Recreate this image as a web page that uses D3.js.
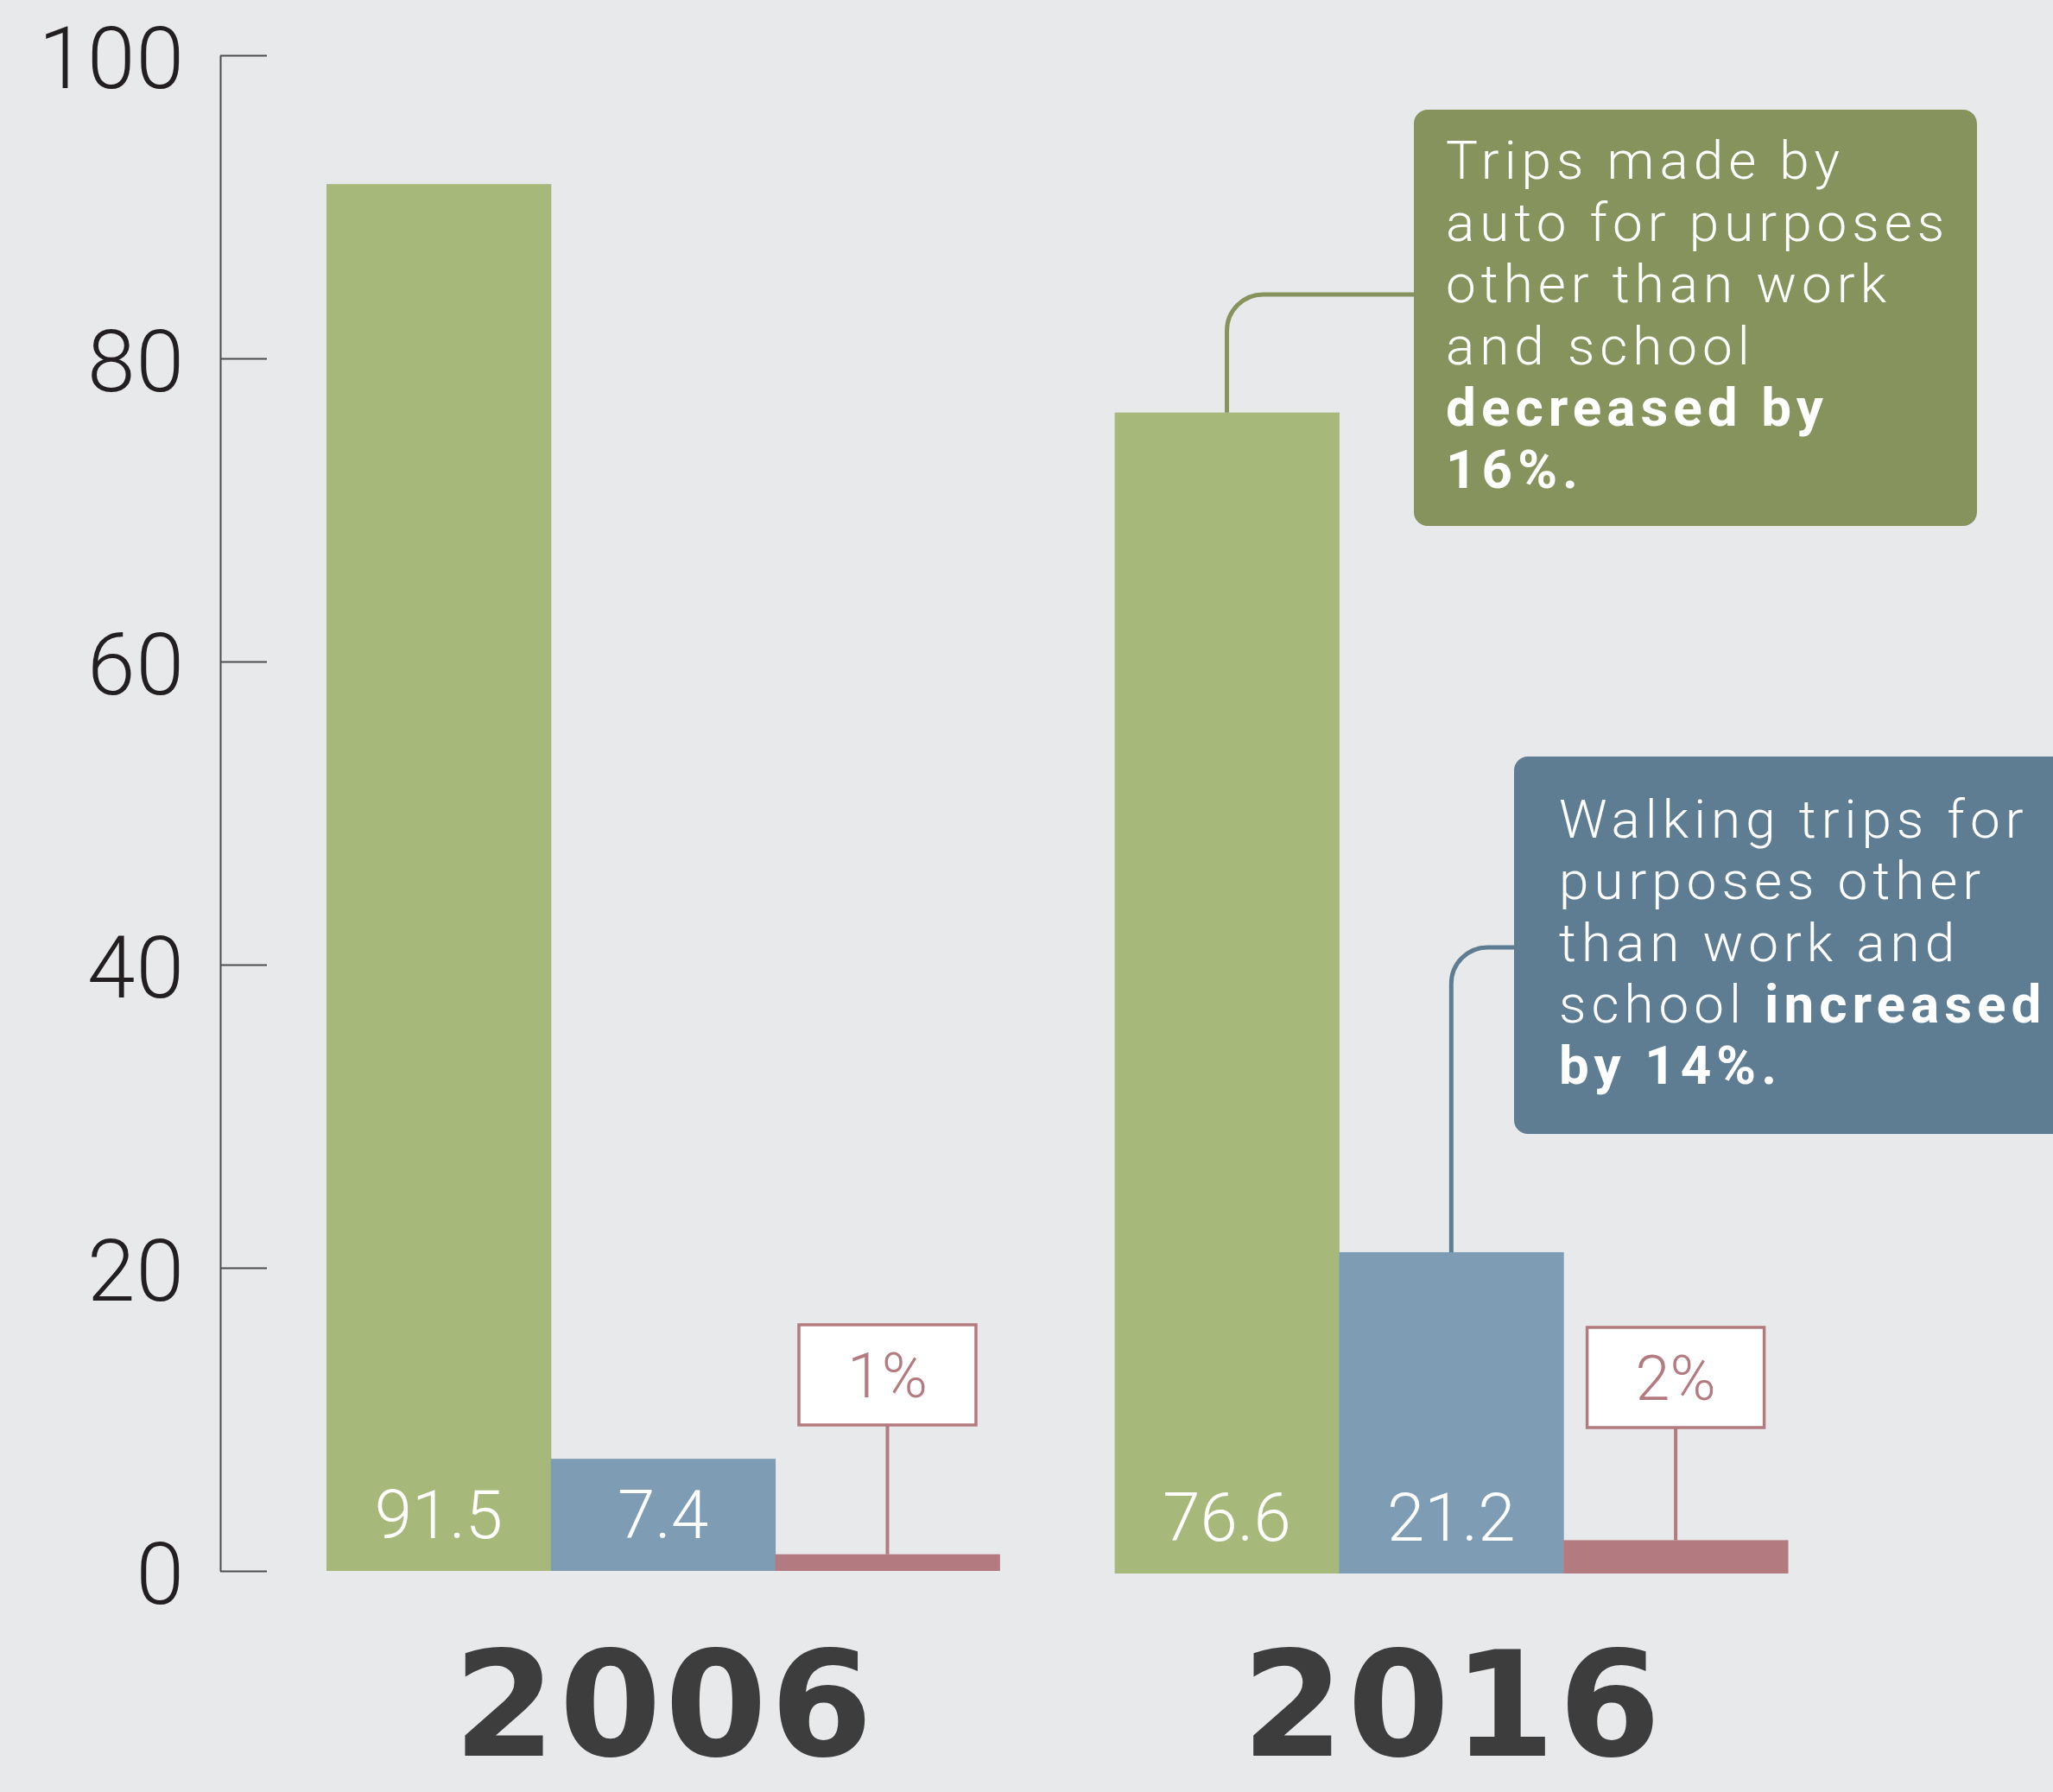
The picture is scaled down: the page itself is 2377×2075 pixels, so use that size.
<!DOCTYPE html>
<html><head><meta charset="utf-8">
<script src="https://cdn.jsdelivr.net/npm/d3@7"></script>
<style>
html,body{margin:0;padding:0;background:#e8e9eb;}
svg{display:block;}
</style></head>
<body>
<svg id="c" width="2377" height="2075"></svg>
<script>
// ---- data ----
const years = ["2006", "2016"];
const modes = ["auto", "walk", "other"];
const values2006 = [91.5, 7.4, 1.1];
const values2016 = [76.6, 21.2, 2.2];
const valueLabels2006 = ["91.5", "7.4", "1%"];
const valueLabels2016 = ["76.6", "21.2", "2%"];
const yTicks = [0, 20, 40, 60, 80, 100];
const autoNote = [
  [{t:"Trips made by", b:false}],
  [{t:"auto for purposes", b:false}],
  [{t:"other than work", b:false}],
  [{t:"and school", b:false}],
  [{t:"decreased by", b:true}],
  [{t:"16%.", b:true}]
];
const walkNote = [
  [{t:"Walking trips for", b:false}],
  [{t:"purposes other", b:false}],
  [{t:"than work and", b:false}],
  [{t:"school ", b:false}, {t:"increased", b:true}],
  [{t:"by 14%.", b:true}]
];

const colors = {auto:"#a7b87b", walk:"#7e9db5", other:"#b37b80"};
const noteColors = {auto:"#86935c", walk:"#5e7d93"};
const thin = "Roboto, 'Open Sans', sans-serif";

const svg = d3.select("#c");
svg.append("rect").attr("width",2377).attr("height",2075).attr("fill","#e8e9eb");

const y = d3.scaleLinear().domain([0,100]).range([1819,64]);
const x0 = d3.scaleBand().domain(years).range([378,2070]).paddingInner(0.146);
const x1 = d3.scaleBand().domain(modes).range([0, x0.bandwidth()]);

// axis
const axis = d3.axisLeft(y).tickValues(yTicks).tickSizeInner(-54).tickSizeOuter(0).tickPadding(41);
const ag = svg.append("g").attr("transform","translate(255,0)").call(axis);
ag.select(".domain").attr("stroke","#4d4d4f").attr("stroke-width",2);
ag.selectAll(".tick line").attr("stroke","#4d4d4f").attr("stroke-width",2);
ag.selectAll(".tick text").attr("font-family",thin).attr("font-weight",300)
  .attr("font-size",100).attr("letter-spacing",1).attr("fill","#231f20").attr("dy","0.37em");

const groups = [
  {year:"2006", vals:values2006, labels:valueLabels2006, dy:0},
  {year:"2016", vals:values2016, labels:valueLabels2016, dy:3}
];

groups.forEach(g => {
  const gg = svg.append("g").attr("transform",`translate(${x0(g.year)},${g.dy})`);
  const data = modes.map((m,i)=>({m, v:g.vals[i], l:g.labels[i]}));
  gg.selectAll("rect.bar").data(data).join("rect")
    .attr("class","bar")
    .attr("x", d=>x1(d.m)).attr("width", x1.bandwidth()+0.5)
    .attr("y", d=>y(d.v)).attr("height", d=>y(0)-y(d.v))
    .attr("fill", d=>colors[d.m]);
  gg.selectAll("text.val").data(data.filter(d=>d.m!=="other")).join("text")
    .attr("class","val")
    .attr("x", d=>x1(d.m)+x1.bandwidth()/2).attr("y", y(0)-38)
    .attr("text-anchor","middle").attr("font-family",thin).attr("font-weight",300)
    .attr("font-size",78).attr("fill","#ffffff").text(d=>d.l);
  const o = data[2];
  const cx = x1(o.m)+x1.bandwidth()/2;
  const bw = 205, bh = 116, btop = y(0)-285;
  gg.append("line").attr("x1",cx).attr("x2",cx).attr("y1",btop+bh).attr("y2",y(o.v))
    .attr("stroke",colors.other).attr("stroke-width",4);
  gg.append("rect").attr("x",cx-bw/2).attr("y",btop).attr("width",bw).attr("height",bh)
    .attr("fill","#ffffff").attr("stroke",colors.other).attr("stroke-width",3.5);
  gg.append("text").attr("x",cx).attr("y",btop+84).attr("text-anchor","middle")
    .attr("font-family",thin).attr("font-weight",300).attr("font-size",72)
    .attr("fill",colors.other).text(o.l);
  svg.append("text").attr("x",x0(g.year)+x0.bandwidth()/2 + 2).attr("y",2033)
    .attr("text-anchor","middle").attr("font-family","'DejaVu Sans', sans-serif").attr("font-weight",700)
    .attr("font-size",170).attr("letter-spacing",4).attr("fill","#3d3d3d").text(g.year);
});

function note(lines, color, bx, by, bw, bh, tx, ty0, lineH, mode, groupDy, joinY) {
  const cx = x0("2016") + x1(mode) + x1.bandwidth()/2;
  const top = y(values2016[modes.indexOf(mode)]) + groupDy;
  const r = 42;
  svg.append("path")
    .attr("d", `M${bx},${joinY} H${cx+r} A${r},${r} 0 0 0 ${cx},${joinY+r} V${top}`)
    .attr("fill","none").attr("stroke",color).attr("stroke-width",5);
  svg.append("rect").attr("x",bx).attr("y",by).attr("width",bw).attr("height",bh)
    .attr("rx",16).attr("fill",color);
  lines.forEach((segs,i) => {
    const t = svg.append("text").attr("font-family",thin).attr("font-size",62)
      .attr("letter-spacing",6).attr("fill","#ffffff")
      .attr("x",tx).attr("y",ty0+i*lineH);
    segs.forEach(s => {
      t.append("tspan").attr("font-weight", s.b ? 700 : 300).text(s.t);
    });
  });
}
note(autoNote, noteColors.auto, 1637, 127, 652, 482, 1674, 207, 71.6, "auto", 3, 341);
note(walkNote, noteColors.walk, 1753, 876, 700, 437, 1805, 970, 71.3, "walk", 3, 1097);
</script>
</body></html>
